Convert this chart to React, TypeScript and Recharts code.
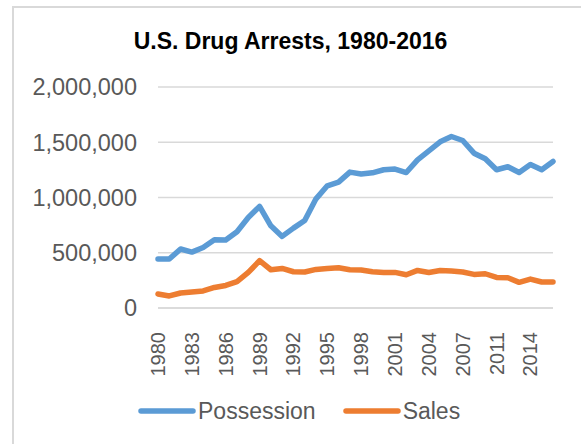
import { LineChart, Line, XAxis, YAxis, CartesianGrid, Legend } from "recharts";

const years = [
  "1980", "1981", "1982", "1983", "1984", "1985", "1986", "1987", "1988", "1989",
  "1990", "1991", "1992", "1993", "1994", "1995", "1996", "1997", "1998", "1999",
  "2000", "2001", "2002", "2003", "2004", "2005", "2006", "2007", "2008", "2009",
  "2011", "2012", "2013", "2014", "2015", "2016",
];

const possession = [
  443000, 443000, 534000, 506000, 548000, 617000, 615000, 690000, 819000, 919000,
  744000, 648000, 723000, 792000, 988000, 1106000, 1139000, 1230000, 1212000, 1223000,
  1251000, 1257000, 1226000, 1341000, 1422000, 1504000, 1552000, 1516000, 1401000, 1350000,
  1251000, 1278000, 1226000, 1299000, 1251000, 1326000,
];

const sales = [
  127000, 109000, 136000, 145000, 154000, 186000, 204000, 238000, 322000, 428000,
  346000, 358000, 328000, 326000, 349000, 358000, 364000, 346000, 344000, 328000,
  322000, 322000, 301000, 340000, 322000, 340000, 334000, 326000, 304000, 310000,
  277000, 274000, 232000, 262000, 235000, 235000,
];

const yTicks = [0, 500000, 1000000, 1500000, 2000000];

const data = years.map((year, i) => ({
  year,
  Possession: possession[i],
  Sales: sales[i],
}));

const FONT = "'Liberation Sans', Arial, sans-serif";
const TEXT = "#595959";
const GRID = "#d9d9d9";

const XTick = (props: any) => {
  const { x, y, payload } = props;
  return (
    <text
      x={x}
      y={y + 16}
      transform={`rotate(-90, ${x}, ${y + 16})`}
      textAnchor="end"
      dominantBaseline="central"
      fill={TEXT}
      fontSize={20}
      fontFamily={FONT}
    >
      {payload.value}
    </text>
  );
};

const LegendContent = () => {
  const items = [
    { name: "Possession", color: "#5B9BD5" },
    { name: "Sales", color: "#ED7D31" },
  ];
  return (
    <div style={{ display: "flex", alignItems: "center", height: 36 }}>
      {items.map((it) => (
        <div
          key={it.name}
          style={{ display: "flex", alignItems: "center", marginRight: 27 }}
        >
          <svg width={58} height={10} style={{ display: "block" }}>
            <line
              x1={3}
              y1={5}
              x2={55}
              y2={5}
              stroke={it.color}
              strokeWidth={5.5}
              strokeLinecap="round"
            />
          </svg>
          <span
            style={{
              fontFamily: FONT,
              fontSize: 23,
              color: TEXT,
              marginLeft: 2,
              lineHeight: "36px",
            }}
          >
            {it.name}
          </span>
        </div>
      ))}
    </div>
  );
};

export default function App() {
  return (
    <div
      style={{
        position: "fixed",
        left: 0,
        top: 0,
        width: 581,
        height: 444,
        overflow: "hidden",
        background: "#fff",
      }}
    >
      <div
        style={{
          position: "absolute",
          left: 12,
          top: 6,
          width: 640,
          height: 520,
          border: `2px solid ${GRID}`,
        }}
      />
      <div
        style={{
          position: "absolute",
          left: 0,
          top: 28,
          width: 581,
          textAlign: "center",
          fontFamily: FONT,
          fontWeight: "bold",
          fontSize: 23,
          color: "#000",
        }}
      >
        U.S. Drug Arrests, 1980-2016
      </div>
      <div style={{ position: "absolute", left: 0, top: 0 }}>
        <LineChart
          width={581}
          height={444}
          data={data}
          margin={{ top: 87, right: 28, left: 0, bottom: 0 }}
        >
          <CartesianGrid vertical={false} stroke={GRID} strokeWidth={1.5} />
          <XAxis
            dataKey="year"
            interval={2}
            height={100}
            axisLine={{ stroke: GRID, strokeWidth: 1.5 }}
            tickLine={false}
            tick={<XTick />}
          />
          <YAxis
            width={158}
            domain={[0, 2000000]}
            ticks={yTicks}
            axisLine={false}
            tickLine={false}
            tickMargin={15}
            tick={{ fill: TEXT, fontSize: 23.5, fontFamily: FONT }}
            tickFormatter={(v: number) => v.toLocaleString("en-US")}
          />
          <Legend
            content={<LegendContent />}
            wrapperStyle={{ position: "absolute", left: 138, top: 393, width: 400 }}
          />
          <Line
            type="linear"
            dataKey="Possession"
            stroke="#5B9BD5"
            strokeWidth={5.5}
            strokeLinecap="round"
            strokeLinejoin="round"
            dot={false}
            isAnimationActive={false}
          />
          <Line
            type="linear"
            dataKey="Sales"
            stroke="#ED7D31"
            strokeWidth={5.5}
            strokeLinecap="round"
            strokeLinejoin="round"
            dot={false}
            isAnimationActive={false}
          />
        </LineChart>
      </div>
    </div>
  );
}
